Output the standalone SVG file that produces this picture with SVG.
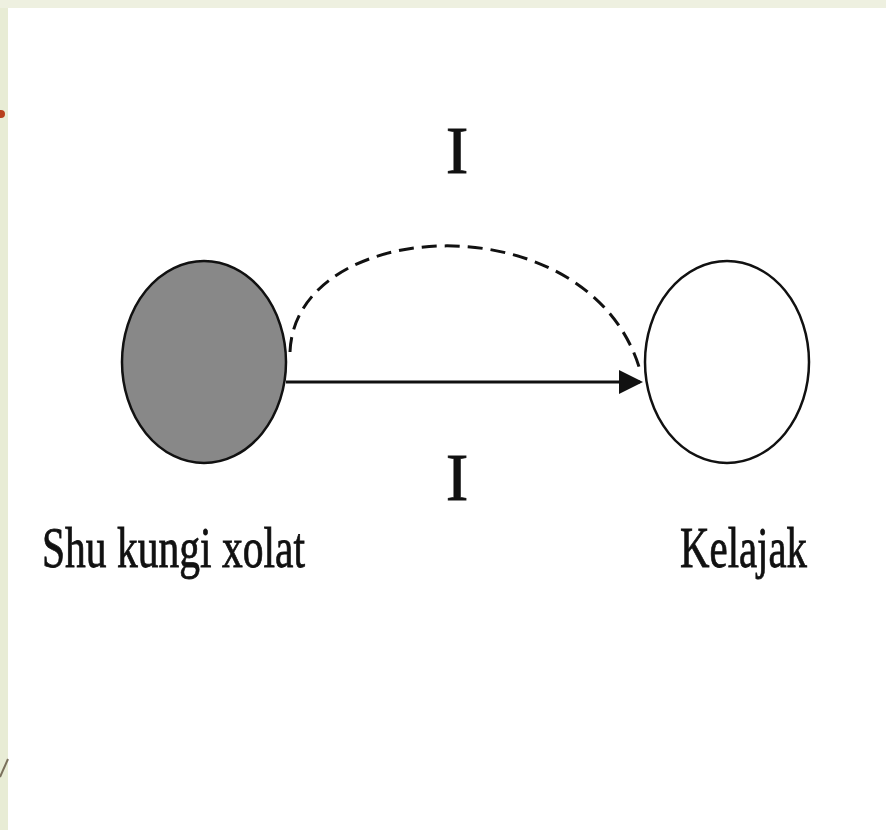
<svg xmlns="http://www.w3.org/2000/svg" width="886" height="830" viewBox="0 0 886 830">
<style>
.lbl{font-family:"Liberation Serif","Times New Roman",serif;fill:#111;stroke:#111;stroke-width:0.8;}
.node{stroke:#111;stroke-width:2.5;}
.edge{fill:none;stroke:#111;stroke-width:3;}
</style>
<defs>
<marker id="ah" markerWidth="8" markerHeight="8" refX="7" refY="4" orient="auto" markerUnits="strokeWidth">
<path d="M0,0 L8,4 L0,8 z" fill="#111"/>
</marker>
</defs>
<rect x="0" y="0" width="886" height="830" fill="#e8ecd5"/>
<rect x="0" y="0" width="886" height="8" fill="#eef0e0"/>
<rect x="8" y="8" width="878" height="822" fill="#ffffff"/>
<circle cx="1" cy="114" r="4" fill="#b8401e"/>
<line x1="0" y1="777" x2="8" y2="759" stroke="#7a705c" stroke-width="2"/>
<g id="node-current">
<ellipse class="node" cx="204" cy="362" rx="82" ry="101" fill="#888888"/>
<text class="lbl" x="42" y="567" font-size="57" textLength="263" lengthAdjust="spacingAndGlyphs">Shu kungi xolat</text>
</g>
<g id="node-future">
<ellipse class="node" cx="727" cy="362" rx="82" ry="101" fill="#ffffff"/>
<text class="lbl" x="680" y="567" font-size="57" textLength="127" lengthAdjust="spacingAndGlyphs">Kelajak</text>
</g>
<g id="connectors">
<path class="edge" d="M290,352 C295,215 590,200 640,370" stroke-dasharray="15,8"/>
<line class="edge" x1="286" y1="382" x2="640" y2="382" marker-end="url(#ah)"/>
<text class="lbl" x="457" y="173" font-size="68" text-anchor="middle">I</text>
<text class="lbl" x="457" y="500" font-size="68" text-anchor="middle">I</text>
</g>
</svg>
